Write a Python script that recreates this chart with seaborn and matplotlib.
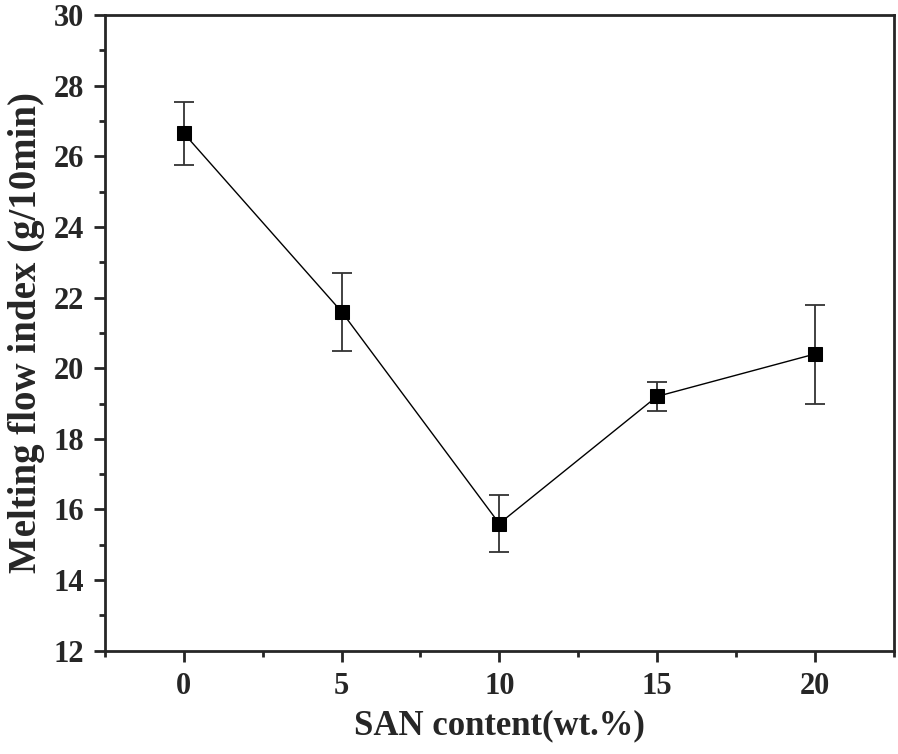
import seaborn as sns
import matplotlib.pyplot as plt
import pandas as pd
from matplotlib.ticker import MultipleLocator

san_content = [0, 5, 10, 15, 20]
mfi = [26.65, 21.6, 15.6, 19.2, 20.4]
mfi_err = [0.9, 1.1, 0.8, 0.4, 1.4]

df = pd.DataFrame({"san": san_content, "mfi": mfi, "err": mfi_err})

sns.set_style("ticks")
plt.rcParams["font.family"] = ["Liberation Serif", "DejaVu Serif"]
plt.rcParams["font.weight"] = "bold"

fig = plt.figure(figsize=(8.98, 7.54), dpi=100)
ax = fig.add_axes([0.117, 0.137, 0.878, 0.843])

ax.errorbar(df["san"], df["mfi"], yerr=df["err"], fmt="none",
            ecolor="#333333", elinewidth=1.3, capsize=7, capthick=1.3, zorder=2)
sns.lineplot(data=df, x="san", y="mfi", color="black", linewidth=1,
             marker="s", markersize=10, markeredgecolor="black", ax=ax, zorder=3)

ax.set_xlim(-2.5, 22.5)
ax.set_ylim(12, 30)
ax.set_xticks(san_content)
ax.yaxis.set_major_locator(MultipleLocator(2))
ax.xaxis.set_minor_locator(MultipleLocator(2.5))
ax.yaxis.set_minor_locator(MultipleLocator(1))
ax.tick_params(which="major", direction="out", length=8, width=2, labelsize=22, pad=7)
ax.tick_params(which="minor", direction="out", length=4.5, width=2)
for sp in ax.spines.values():
    sp.set_linewidth(2)

ax.set_xlabel("SAN content(wt.%)", size=25, weight="bold", labelpad=6)
ax.set_ylabel("Melting flow index (g/10min)", size=28, weight="bold", labelpad=6)

fig.savefig("out.png", dpi=100)
